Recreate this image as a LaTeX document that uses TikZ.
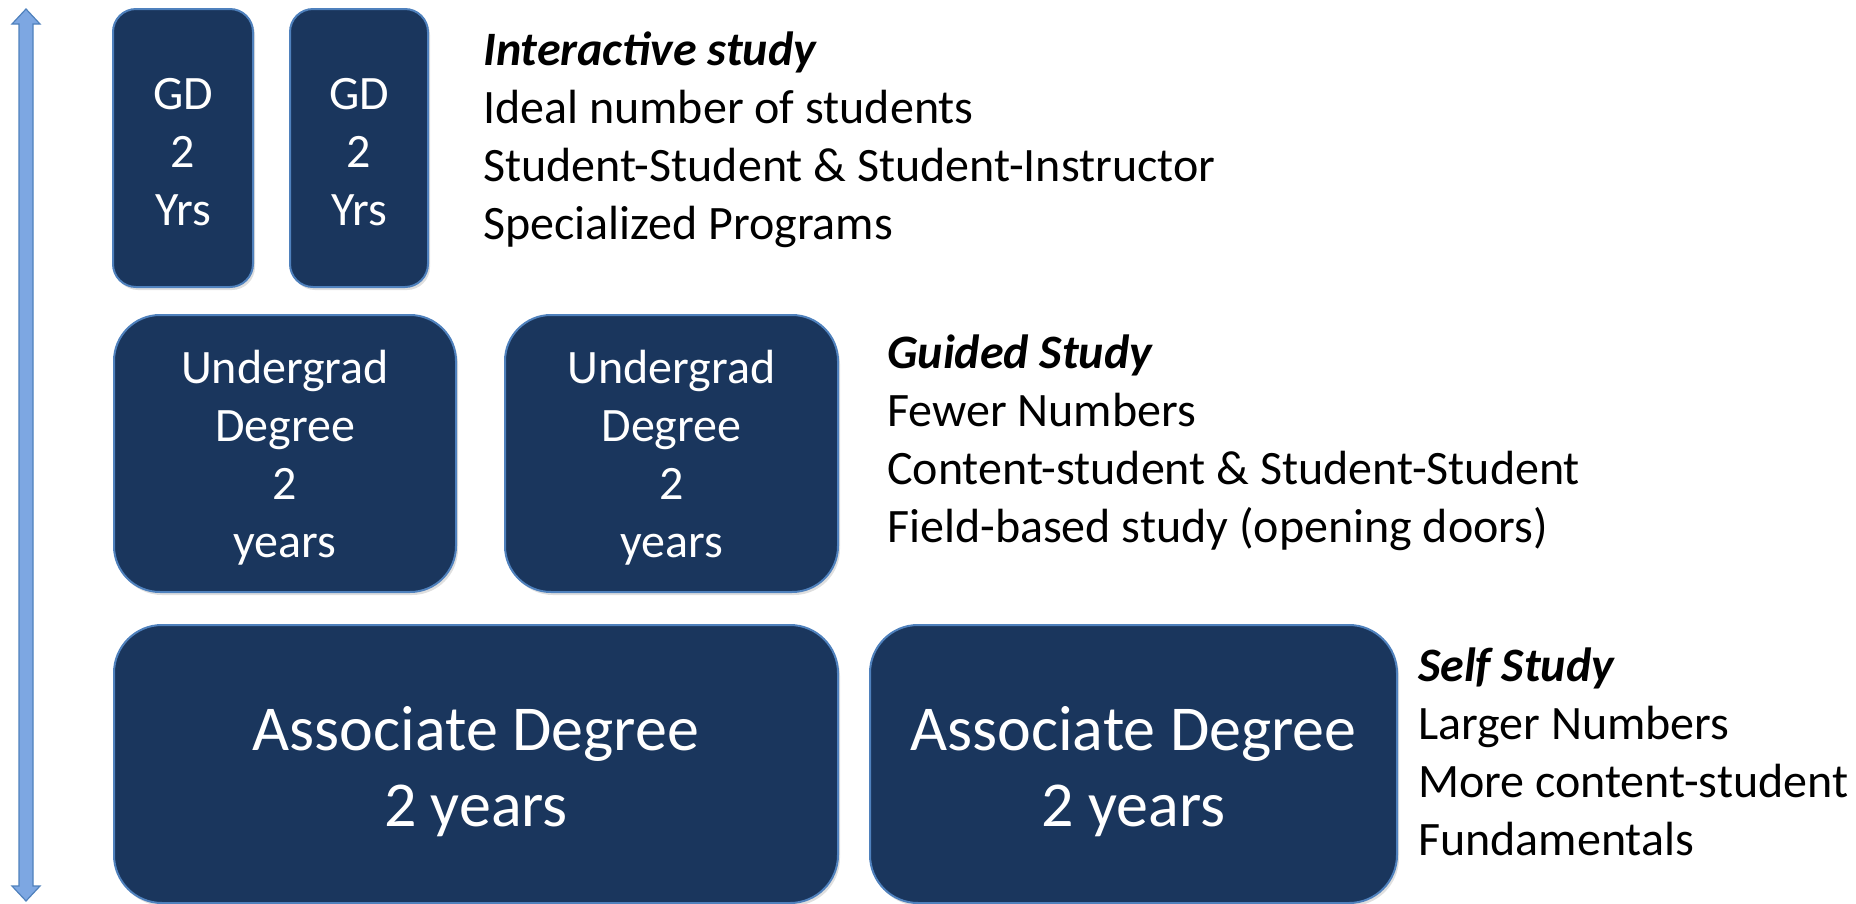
\documentclass[tikz,border=0pt]{standalone}
\usepackage{fontspec}
\setmainfont{Carlito}
\usetikzlibrary{shadows}
\definecolor{boxfill}{RGB}{26,54,93}
\definecolor{boxline}{RGB}{79,129,189}
\definecolor{arrowfill}{RGB}{125,167,226}
\definecolor{arrowline}{RGB}{79,129,189}
\tikzset{
  degbox/.style={draw=boxline, line width=2pt, fill=boxfill, text=white, align=center,
    inner sep=0pt, drop shadow={shadow xshift=2pt, shadow yshift=-3pt, opacity=0.25}},
  small/.style={font=\fontsize{48}{58}\selectfont},
  big/.style={font=\fontsize{64}{76}\selectfont},
  desc/.style={anchor=west, align=left, inner sep=0pt, font=\fontsize{48}{58}\selectfont}
}
\begin{document}
\begin{tikzpicture}[x=1pt,y=-1pt]
\useasboundingbox (0,0) rectangle (1856,903);
% double arrow
\draw[arrowline, line width=1.2pt, fill=arrowfill]
  (26,9) -- (40,24) -- (33,24) -- (33,886) -- (40,886) -- (26,901) -- (12,886) -- (19,886)
  -- (19,24) -- (12,24) -- cycle;
% GD boxes
\node[degbox, minimum width=140pt, minimum height=278pt, rounded corners=23pt] (gd1) at (183,148) {};
\node[degbox, minimum width=138pt, minimum height=278pt, rounded corners=23pt] (gd2) at (359,148) {};
\node[small, text=white, align=center, inner sep=0pt] (gd1t) at (183,152) {GD\\2\\Yrs};
\node[small, text=white, align=center, inner sep=0pt] (gd2t) at (359,152) {GD\\2\\Yrs};
% Undergrad boxes
\node[degbox, minimum width=342pt, minimum height=277pt, rounded corners=46pt] (ug1) at (285,453.5) {};
\node[degbox, minimum width=333pt, minimum height=277pt, rounded corners=46pt] (ug2) at (671.5,453.5) {};
\node[small, text=white, align=center, inner sep=0pt] (ug1t) at (285,458) {Undergrad\\Degree\\2\\years};
\node[small, text=white, align=center, inner sep=0pt] (ug2t) at (671.5,458) {Undergrad\\Degree\\2\\years};
% Associate boxes
\node[degbox, minimum width=724pt, minimum height=278pt, rounded corners=48pt] (as1) at (476,764) {};
\node[degbox, minimum width=527pt, minimum height=278pt, rounded corners=48pt] (as2) at (1133.5,764) {};
\node[big, text=white, align=center, inner sep=0pt] (as1t) at (476,772) {Associate Degree\\2 years};
\node[big, text=white, align=center, inner sep=0pt] (as2t) at (1133.5,772) {Associate Degree\\2 years};
% descriptions
\node[desc] (t1) at (483,140) {\textbf{\textit{Interactive study}}\\Ideal number of students\\Student-Student \& Student-Instructor\\Specialized Programs};
\node[desc] (t2) at (887,443) {\textbf{\textit{Guided Study}}\\Fewer Numbers\\Content-student \& Student-Student\\Field-based study (opening doors)};
\node[desc] (t3) at (1418,752) {\textbf{\textit{Self Study}}\\Larger Numbers\\More content-student\\Fundamentals};
\end{tikzpicture}
\end{document}
